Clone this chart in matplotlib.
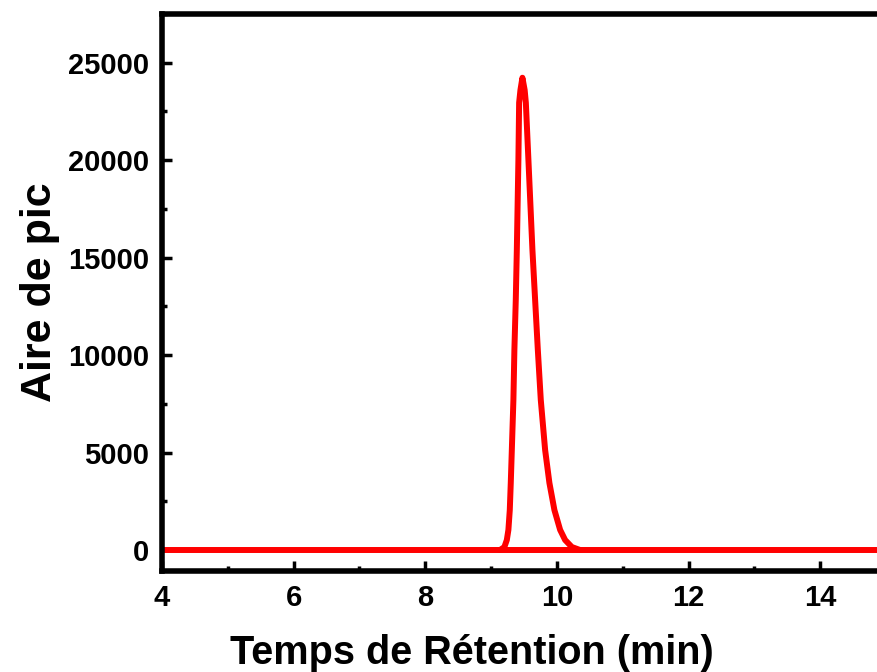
import matplotlib.pyplot as plt
from matplotlib.ticker import MultipleLocator

# baseline of the chromatogram
base_x = [4.0, 9.1, 10.4, 15.0]
base_y = [0, 0, 0, 0]

# peak (retention time in min, peak area)
peak_x = [9.137, 9.202, 9.239, 9.263, 9.284, 9.299, 9.315, 9.339, 9.354, 9.375,
          9.391, 9.415, 9.426, 9.446, 9.476, 9.51, 9.528, 9.567, 9.628, 9.669,
          9.71, 9.755, 9.821, 9.886, 9.962, 10.049, 10.125, 10.227, 10.35]
peak_y = [0, 150, 510, 1030, 2050, 3440, 5130, 7700, 10270, 12830,
          15400, 20020, 22950, 23600, 24230, 23600, 22950, 20020, 15400, 12830,
          10270, 7700, 5130, 3440, 2050, 1030, 510, 150, 0]

plt.rcParams['font.family'] = ['Liberation Sans', 'DejaVu Sans']
plt.rcParams['font.weight'] = 'bold'

fig = plt.figure(figsize=(8.77, 6.72), dpi=100)
ax = fig.add_axes([162 / 877, 1 - 571 / 672, 724 / 877, 557 / 672])

ax.plot(base_x, base_y, color='#ff0000', lw=4.3, solid_capstyle='round')
ax.plot(peak_x, peak_y, color='#ff0000', lw=4.3, solid_joinstyle='round',
        solid_capstyle='round')

ax.set_xlim(4, 15)
ax.set_ylim(-1080, 27500)
ax.xaxis.set_major_locator(MultipleLocator(2))
ax.xaxis.set_minor_locator(MultipleLocator(1))
ax.yaxis.set_major_locator(MultipleLocator(5000))
ax.yaxis.set_minor_locator(MultipleLocator(2500))

for s in ax.spines.values():
    s.set_linewidth(4)
ax.tick_params(which='major', direction='in', length=7, width=2.5, labelsize=21)
ax.tick_params(which='minor', direction='in', length=3.5, width=2.5)
ax.tick_params(axis='x', which='major', pad=9)
ax.tick_params(axis='y', which='major', pad=9)
for lab in ax.get_xticklabels() + ax.get_yticklabels():
    lab.set_fontweight('bold')

ax.set_xlabel('Temps de Rétention (min)', fontsize=28.5, fontweight='bold')
ax.set_ylabel('Aire de pic', fontsize=31, fontweight='bold')
ax.xaxis.set_label_coords(0.428, -0.113)
ax.yaxis.set_label_coords(-0.141, 0.50)

fig.savefig('out.png', dpi=100)
